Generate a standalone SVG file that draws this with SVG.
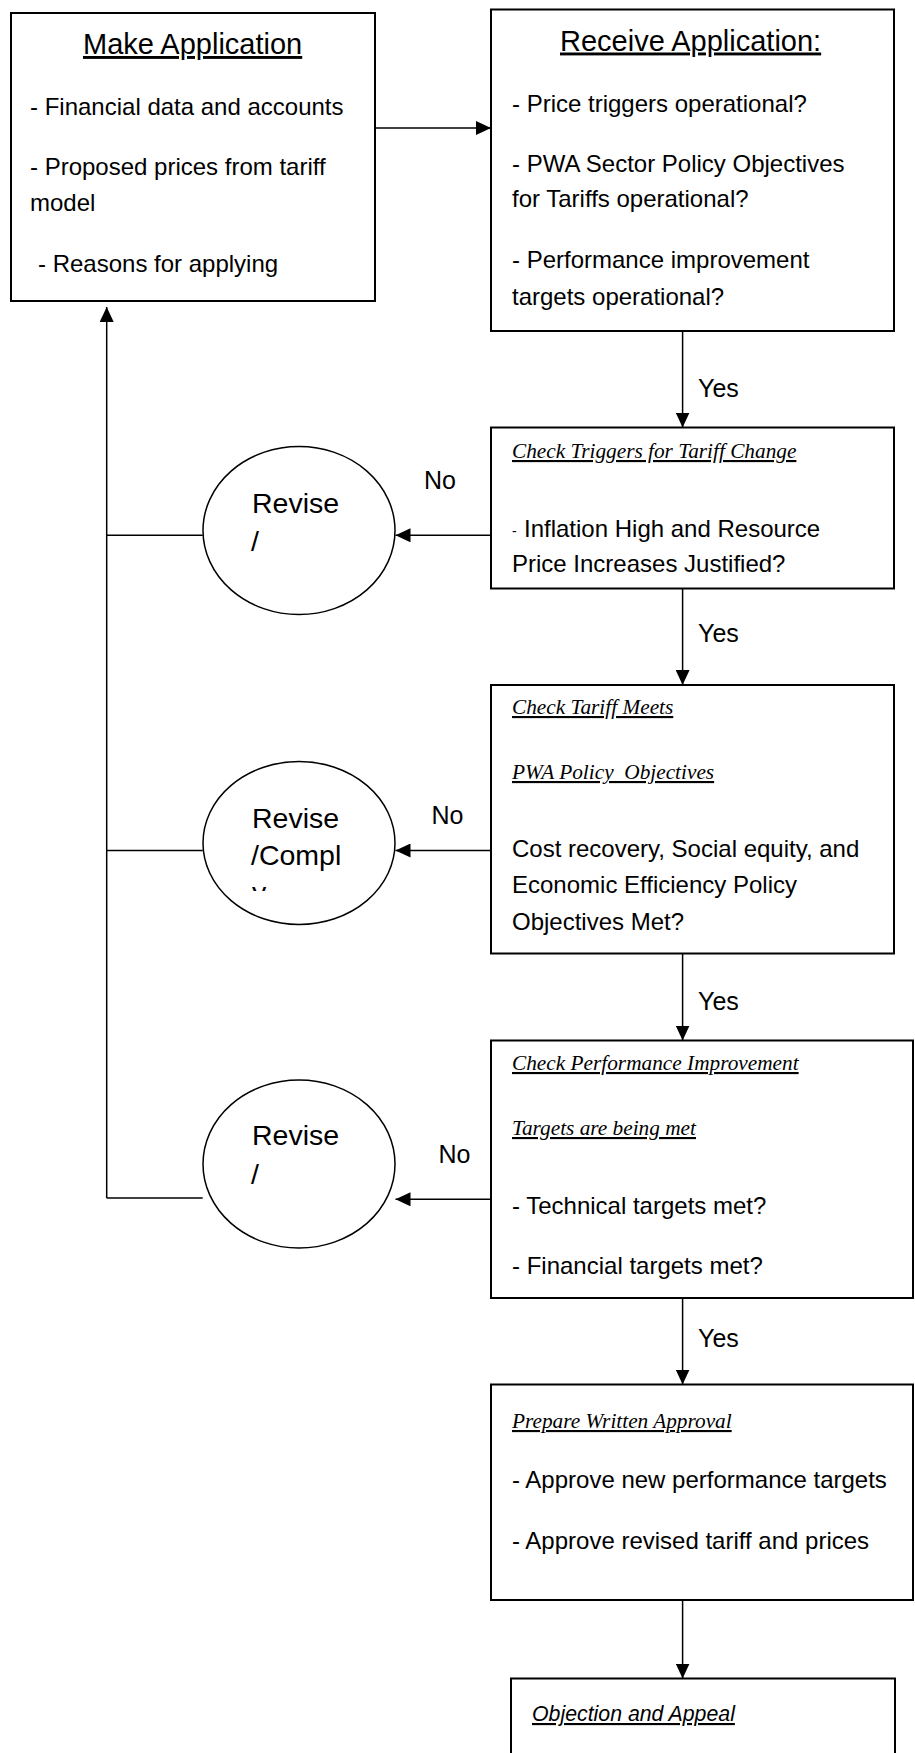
<svg xmlns="http://www.w3.org/2000/svg" width="915" height="1753" viewBox="0 0 915 1753">
<style>
.box{fill:#fff;stroke:#000;stroke-width:2}
.ell{fill:#fff;stroke:#000;stroke-width:1.5}
.conn{stroke:#000;stroke-width:1.5;fill:none}
.t{font-family:"Liberation Sans",Arial,sans-serif;font-size:24px;fill:#000}
.h{font-size:29px;text-decoration:underline}
.it{font-family:"Liberation Serif","Times New Roman",serif;font-style:italic;font-size:21.3px;text-decoration:underline;fill:#000}
.sit{font-style:italic;font-size:21.3px;text-decoration:underline}
.rv{font-size:28.5px}
.lbl{font-size:25px}
</style>
<defs>
<marker id="ah" markerUnits="userSpaceOnUse" markerWidth="16" markerHeight="14" refX="15" refY="7" orient="auto">
<path d="M0,0 L15,7 L0,14 z" fill="#000"/>
</marker>
<clipPath id="clipE2"><rect x="200" y="760" width="200" height="131"/></clipPath>
</defs>

<g id="make-application">
<rect class="box" x="11" y="13" width="364" height="288"/>
<text class="t h" x="83" y="54">Make Application</text>
<text class="t" x="30" y="115">- Financial data and accounts</text>
<text class="t" x="30" y="175">- Proposed prices from tariff</text>
<text class="t" x="30" y="211">model</text>
<text class="t" x="38" y="272">- Reasons for applying</text>
</g>

<g id="receive-application">
<rect class="box" x="491" y="9.5" width="403" height="321.5"/>
<text class="t h" x="560" y="50.5">Receive Application:</text>
<text class="t" x="512" y="112">- Price triggers operational?</text>
<text class="t" x="512" y="172">- PWA Sector Policy Objectives</text>
<text class="t" x="512" y="207">for Tariffs operational?</text>
<text class="t" x="512" y="268">- Performance improvement</text>
<text class="t" x="512" y="305">targets operational?</text>
</g>

<g id="check-triggers">
<rect class="box" x="491" y="427.5" width="403" height="161"/>
<text class="it" x="512" y="458">Check Triggers for Tariff Change</text>
<text class="t" x="512" y="536"><tspan font-size="14">-</tspan><tspan x="524" y="537">Inflation High and Resource</tspan></text>
<text class="t" x="512" y="572">Price Increases Justified?</text>
</g>

<g id="revise-1">
<ellipse class="ell" cx="299" cy="530.5" rx="96" ry="84"/>
<text class="t rv" x="252" y="512.5">Revise</text>
<text class="t rv" x="251" y="550.5">/</text>
</g>

<g id="check-tariff">
<rect class="box" x="491" y="685" width="403" height="268.5"/>
<text class="it" x="512" y="714">Check Tariff Meets</text>
<text class="it" x="512" y="779" xml:space="preserve">PWA Policy  Objectives</text>
<text class="t" x="512" y="856.5">Cost recovery, Social equity, and</text>
<text class="t" x="512" y="893">Economic Efficiency Policy</text>
<text class="t" x="512" y="930">Objectives Met?</text>
</g>

<g id="revise-2">
<ellipse class="ell" cx="299" cy="843" rx="96" ry="81.5"/>
<text class="t rv" x="252" y="827.5">Revise</text>
<text class="t rv" x="251" y="865">/Compl</text>
<text class="t rv" x="252" y="902" clip-path="url(#clipE2)">y</text>
</g>

<g id="check-performance">
<rect class="box" x="491" y="1040.5" width="422" height="257.5"/>
<text class="it" x="512" y="1070">Check Performance Improvement</text>
<text class="it" x="512" y="1135">Targets are being met</text>
<text class="t" x="512" y="1213.5">- Technical targets met?</text>
<text class="t" x="512" y="1273.5">- Financial targets met?</text>
</g>

<g id="revise-3">
<ellipse class="ell" cx="299" cy="1164" rx="96" ry="84"/>
<text class="t rv" x="252" y="1145">Revise</text>
<text class="t rv" x="251" y="1183.5">/</text>
</g>

<g id="prepare-approval">
<rect class="box" x="491" y="1384.5" width="422" height="215.5"/>
<text class="it" x="512" y="1428">Prepare Written Approval</text>
<text class="t" x="512" y="1488">- Approve new performance targets</text>
<text class="t" x="512" y="1548.5">- Approve revised tariff and prices</text>
</g>

<g id="objection-appeal">
<rect class="box" x="511" y="1678.5" width="384" height="120"/>
<text class="t sit" x="532" y="1721">Objection and Appeal</text>
</g>

<g id="connectors">
<line class="conn" x1="375" y1="128" x2="491" y2="128" marker-end="url(#ah)"/>
<line class="conn" x1="682.6" y1="331" x2="682.6" y2="427.5" marker-end="url(#ah)"/>
<line class="conn" x1="682.6" y1="588.5" x2="682.6" y2="685" marker-end="url(#ah)"/>
<line class="conn" x1="682.6" y1="953.5" x2="682.6" y2="1040.5" marker-end="url(#ah)"/>
<line class="conn" x1="682.6" y1="1298" x2="682.6" y2="1384.5" marker-end="url(#ah)"/>
<line class="conn" x1="682.6" y1="1600" x2="682.6" y2="1678.5" marker-end="url(#ah)"/>
<line class="conn" x1="491" y1="535.3" x2="395.5" y2="535.3" marker-end="url(#ah)"/>
<line class="conn" x1="491" y1="850.5" x2="395.5" y2="850.5" marker-end="url(#ah)"/>
<line class="conn" x1="491" y1="1199.3" x2="395.5" y2="1199.3" marker-end="url(#ah)"/>
<line class="conn" x1="106.7" y1="535.3" x2="202.7" y2="535.3"/>
<line class="conn" x1="106.7" y1="850.5" x2="202.7" y2="850.5"/>
<line class="conn" x1="106.7" y1="1198" x2="202.7" y2="1198"/>
<line class="conn" x1="106.7" y1="1198" x2="106.7" y2="307" marker-end="url(#ah)"/>
</g>

<g id="labels">
<text class="t lbl" x="698" y="397">Yes</text>
<text class="t lbl" x="698" y="642">Yes</text>
<text class="t lbl" x="698" y="1010">Yes</text>
<text class="t lbl" x="698" y="1347">Yes</text>
<text class="t lbl" x="424" y="489">No</text>
<text class="t lbl" x="431.5" y="824">No</text>
<text class="t lbl" x="438.5" y="1162.5">No</text>
</g>
</svg>
